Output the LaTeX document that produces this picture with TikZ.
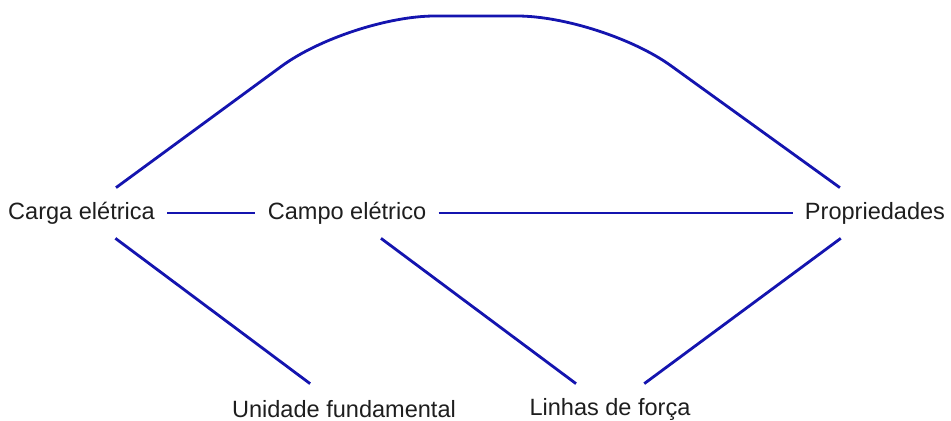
\documentclass[tikz,border=0pt]{standalone}
\usepackage{fontspec}
\setmainfont{Liberation Sans}
\definecolor{linkblue}{RGB}{20,20,175}
\definecolor{labelgray}{RGB}{30,30,30}

\begin{document}
\begin{tikzpicture}[x=0.02cm, y=-0.02cm,
  every node/.style={text=labelgray, font=\fontsize{13.4}{16}\selectfont,
    inner xsep=0.24cm, inner ysep=0pt, minimum height=1cm},
  link/.style={draw=linkblue, line width=1.6pt}]
  \useasboundingbox (0,0) rectangle (951,421);
  \node (carga) at (81.5,213) {Carga elétrica};
  \node (campo) at (347,213) {Campo elétrico};
  \node (prop) at (875,213) {Propriedades};
  \node (unid) at (344,409) {Unidade fundamental};
  \node (linhas) at (610,409) {Linhas de força};
  % Draw the links
  \draw[link] (carga) -- (campo);
  \draw[link] (campo) -- (prop);
  \draw[link] (carga) -- (unid);
  \draw[link] (campo) -- (linhas);
  \draw[link] (prop) -- (linhas);
  \draw[link, rounded corners=1.7cm] (carga) -- (350,16) -- (602,16) -- (prop);
\end{tikzpicture}
\end{document}
